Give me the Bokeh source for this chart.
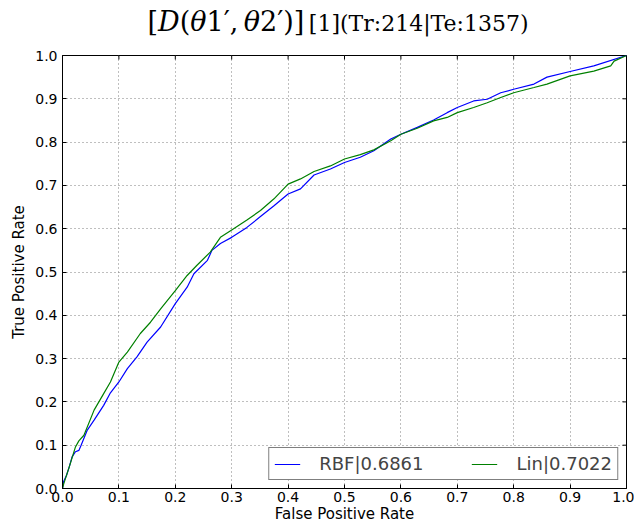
import math
from bokeh.plotting import figure
from bokeh.models import FixedTicker, NumeralTickFormatter, Legend, LegendItem, Range1d, Div
from bokeh.layouts import column
from bokeh.embed import file_html
from bokeh.resources import INLINE

# RBF curve (blue)
rbf_fpr = [0, 0.002, 0.007, 0.012, 0.017, 0.023, 0.029, 0.033, 0.044, 0.056, 0.073, 0.085,
           0.1, 0.115, 0.132, 0.150, 0.174, 0.2, 0.221, 0.233, 0.257, 0.265, 0.280, 0.3,
           0.327, 0.351, 0.375, 0.4, 0.422, 0.446, 0.475, 0.5, 0.528, 0.552, 0.582, 0.6,
           0.629, 0.658, 0.682, 0.7, 0.729, 0.753, 0.777, 0.8, 0.836, 0.859, 0.9, 0.942, 1.0]
rbf_tpr = [0, 0.016, 0.03, 0.05, 0.073, 0.085, 0.088, 0.10, 0.135, 0.158, 0.192, 0.221,
           0.246, 0.277, 0.304, 0.338, 0.373, 0.427, 0.465, 0.496, 0.527, 0.55, 0.566, 0.580,
           0.603, 0.628, 0.653, 0.680, 0.692, 0.724, 0.738, 0.753, 0.765, 0.780, 0.807, 0.818,
           0.834, 0.851, 0.868, 0.880, 0.895, 0.899, 0.914, 0.922, 0.934, 0.950, 0.963, 0.976, 1.0]

# Linear curve (green)
lin_fpr = [0, 0.002, 0.012, 0.023, 0.029, 0.038, 0.056, 0.073, 0.085, 0.1, 0.115, 0.138,
           0.156, 0.174, 0.2, 0.221, 0.238, 0.262, 0.280, 0.3, 0.327, 0.351, 0.375, 0.4,
           0.422, 0.446, 0.475, 0.5, 0.528, 0.552, 0.582, 0.6, 0.629, 0.658, 0.682, 0.7,
           0.729, 0.753, 0.777, 0.8, 0.836, 0.859, 0.9, 0.942, 0.972, 0.978, 1.0]
lin_tpr = [0, 0.01, 0.05, 0.096, 0.11, 0.123, 0.181, 0.219, 0.246, 0.292, 0.315, 0.358,
           0.384, 0.415, 0.457, 0.492, 0.515, 0.546, 0.580, 0.597, 0.620, 0.642, 0.669, 0.703,
           0.715, 0.732, 0.745, 0.761, 0.771, 0.782, 0.803, 0.818, 0.832, 0.849, 0.857, 0.868,
           0.880, 0.891, 0.903, 0.914, 0.926, 0.934, 0.953, 0.964, 0.976, 0.987, 1.0]

ticks = [0.0, 0.1, 0.2, 0.3, 0.4, 0.5, 0.6, 0.7, 0.8, 0.9, 1.0]
axis_min, axis_max = 0.0, 1.0
legend_labels = ["RBF|0.6861", "Lin|0.7022"]
title_html = ("<span style=\"font-size:27px\">[<i>D</i>(<i>θ</i>1′,&#8201;<i>θ</i>2′)]</span>"
              "<span style=\"font-size:22px\">&#8201;[1](Tr:214|Te:1357)</span>")

title_div = Div(text=title_html, width=596, height=47, margin=(0, 0, 0, 40),
                styles={"text-align": "center", "font-family": "'DejaVu Serif'",
                        "color": "black", "line-height": "1", "padding-top": "8px",
                        "width": "596px", "display": "block"})

p = figure(width=634, height=478, output_backend="svg", toolbar_location=None,
           x_range=Range1d(axis_min, axis_max), y_range=Range1d(axis_min, axis_max),
           min_border_left=62, min_border_right=8, min_border_top=8, min_border_bottom=37)
p.background_fill_color = "white"
p.border_fill_color = "white"
p.outline_line_color = "black"
p.outline_line_width = 1

font = "DejaVu Sans"
for ax in (p.xaxis[0], p.yaxis[0]):
    ax.ticker = FixedTicker(ticks=ticks)
    ax.formatter = NumeralTickFormatter(format="0.0")
    ax.major_tick_in = 4
    ax.major_tick_out = 0
    ax.minor_tick_line_color = None
    ax.axis_line_color = "black"
    ax.major_tick_line_color = "black"
    ax.major_label_text_font = font
    ax.major_label_text_font_size = "14px"
    ax.major_label_text_color = "black"
    ax.axis_label_text_font = font
    ax.axis_label_text_font_size = "15px"
    ax.axis_label_text_font_style = "normal"
    ax.axis_label_text_color = "black"
p.xaxis.major_label_standoff = 3
p.xaxis.axis_label_standoff = 0
p.yaxis.major_label_standoff = 5
p.yaxis.axis_label_standoff = 4
p.xaxis.axis_label = "False Positive Rate"
p.yaxis.axis_label = "True Positive Rate"

p.grid.ticker = FixedTicker(ticks=ticks)
p.grid.grid_line_color = "#7f7f7f"
p.grid.grid_line_dash = "1 3"
p.grid.grid_line_width = 1

# inner tick marks on the top and right frame edges (half of each dash is clipped)
p.scatter(x=ticks, y=[axis_max] * len(ticks), marker="dash", angle=math.pi / 2,
          size=8, line_color="black", line_width=1)
p.scatter(x=[axis_max] * len(ticks), y=ticks, marker="dash",
          size=8, line_color="black", line_width=1)

r1 = p.line(rbf_fpr, rbf_tpr, line_color="#0000ff", line_width=1.2)
r2 = p.line(lin_fpr, lin_tpr, line_color="#008000", line_width=1.2)

legend = Legend(items=[LegendItem(label=legend_labels[0], renderers=[r1]),
                       LegendItem(label=legend_labels[1], renderers=[r2])],
                location="bottom_right", orientation="horizontal",
                border_line_color="black", border_line_width=1,
                label_text_font=font, label_text_font_size="18px",
                glyph_width=26, glyph_height=16, label_height=16,
                label_standoff=19, spacing=48, padding=5,
                margin=8, background_fill_alpha=1.0)
p.add_layout(legend, "center")

layout = column(title_div, p, spacing=0)
open("out.html", "w").write(file_html(layout, INLINE))
